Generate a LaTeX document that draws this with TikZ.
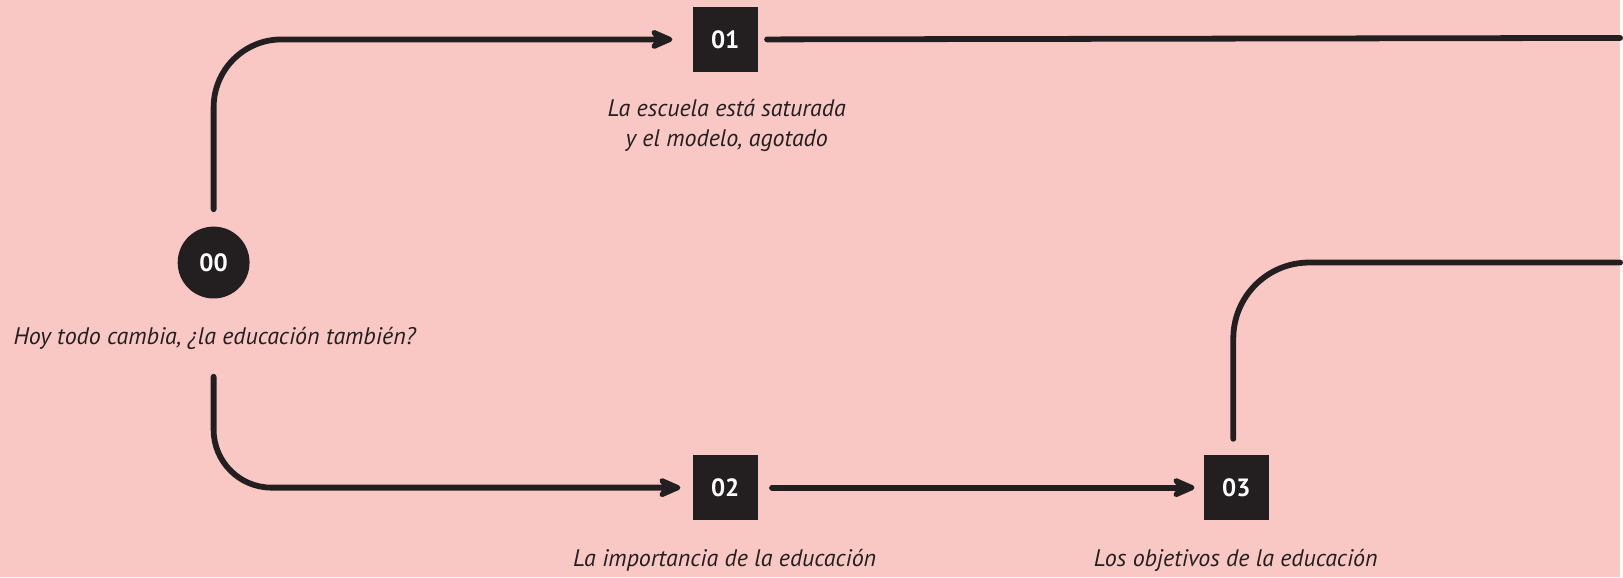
\documentclass[tikz,border=0pt]{standalone}
\usepackage{fontspec}
\setmainfont{PT Sans}
\usepackage{tikz}
\usetikzlibrary{arrows.meta,positioning}
\definecolor{paper}{HTML}{F9C8C4}
\definecolor{ink}{HTML}{231F20}

\begin{document}
\begin{tikzpicture}[
    x=0.5pt, y=-0.5pt,
    font=\itshape\fontsize{12}{15}\selectfont,
    numbox/.style={fill=ink, text=white, minimum size=32.5pt, inner sep=0pt, font=\bfseries\fontsize{12.5}{14}\selectfont},
    numdot/.style={numbox, circle, minimum size=36pt},
    caption/.style={text=ink, align=center, anchor=base},
    sketch/.style={draw=ink, line width=2.9pt, line cap=round, line join=round},
    tip/.style={-{Stealth[length=15pt, width=13pt, inset=5pt, round]}}
]
    % Background
    \fill[paper] (0,0) rectangle (1623,578);

    % Nodes
    \node[numdot] (n00) at (214,263) {00};
    \node[numbox] (n01) at (726.5,39.5) {01};
    \node[numbox] (n02) at (726.5,488.5) {02};
    \node[numbox] (n03) at (1238.5,488.5) {03};

    \node[caption] (t00) at (215,345) {Hoy todo cambia, ¿la educación también?};
    \node[caption] (t01) at (728,147) {La escuela está saturada\\y el modelo, agotado};
    \node[caption] (t02) at (726,567) {La importancia de la educación};
    \node[caption] (t03) at (1238,567) {Los objetivos de la educación};

    \coordinate (out1) at (1623,38);
    \coordinate (out2) at (1623,263);

    % Arrows
    \draw[sketch, tip, rounded corners=34pt, shorten <=8.5pt, shorten >=10pt] (n00.north) |- (n01.west);
    \draw[sketch, shorten <=4.5pt] (n01.east) -- (out1);
    \draw[sketch, tip, rounded corners=29pt, shorten <=39pt, shorten >=6pt] (n00.south) |- (n02.west);
    \draw[sketch, tip, shorten <=7pt, shorten >=4.5pt] (n02.east) -- (n03.west);
    \draw[sketch, rounded corners=38pt, shorten <=8pt] ([xshift=-1.5pt]n03.north) |- (out2);
\end{tikzpicture}
\end{document}
